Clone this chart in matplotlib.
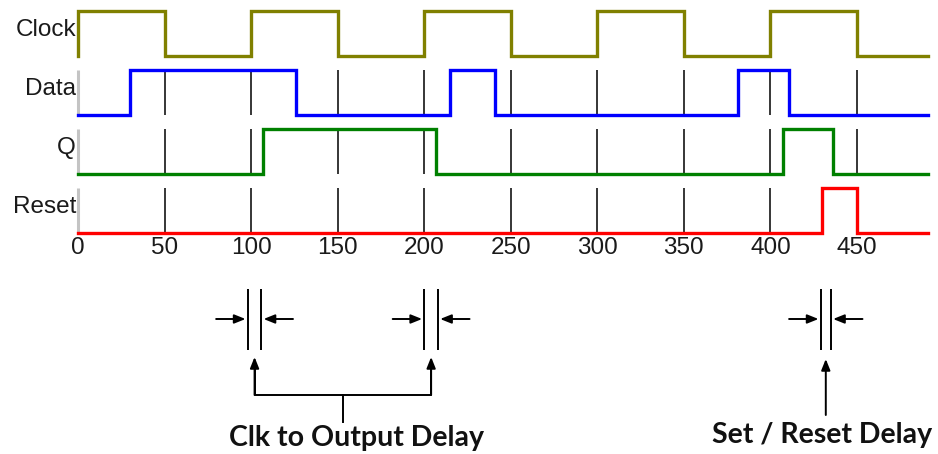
import matplotlib.pyplot as plt

# time axis and signals (every signal starts low and toggles at each edge)
ticks = [0, 50, 100, 150, 200, 250, 300, 350, 400, 450]
t_end = 491
names = ['Clock', 'Data', 'Q', 'Reset']
colors = ['#808000', '#0000ff', '#008000', '#ff0000']
clock_edges = [0, 50, 100, 150, 200, 250, 300, 350, 400, 450]
data_edges = [30, 126, 215, 241, 381, 411]
q_edges = [107, 207, 407, 436]
reset_edges = [430, 450]
edges = [clock_edges, data_edges, q_edges, reset_edges]

# delay markers (pairs of times)
clk_delays = [(98, 106), (200, 208)]
rst_delay = (429, 435)
clk_label = 'Clk to Output Delay'
rst_label = 'Set / Reset Delay'

# layout: x in time units, y in pixels from the top
W, H = 938, 454
px = 1.731          # pixels per time unit
x0 = 78             # pixel of t = 0
row_low = [55.7, 115, 174, 233.3]
amp = 45

fig = plt.figure(figsize=(W / 100, H / 100), dpi=100)
ax = fig.add_axes([0, 0, 1, 1])
ax.set_xlim(-x0 / px, (W - x0) / px)
ax.set_ylim(H, 0)
ax.axis('off')


def steps(ed):
    xs, ys, lvl = [0], [0], 0
    for e in ed:
        xs += [e, e]
        ys += [lvl, 1 - lvl]
        lvl = 1 - lvl
    xs.append(t_end)
    ys.append(lvl)
    return xs, ys


for i, (name, col, ed) in enumerate(zip(names, colors, edges)):
    low = row_low[i]
    high = low - amp
    if i > 0:
        ax.vlines(0, high, low, color='#c4c4c4', lw=2.2, zorder=1)
        ax.vlines(ticks[1:], high, low, color='black', lw=1.1, zorder=2)
    xs, ys = steps(ed)
    ax.plot(xs, [low - amp * v for v in ys], color=col, lw=2.4, zorder=3,
            solid_joinstyle='miter')
    ax.text(-1.2, low - amp / 2 - 3.5, name, ha='right', va='center',
            fontsize=17.5, family='Liberation Sans', color='#1a1a1a')

for t in ticks:
    ax.text(t, 248, str(t), ha='center', va='center', fontsize=17.5,
            family='Liberation Sans', color='#1a1a1a')

# delay annotations
arr = dict(arrowstyle='-|>,head_length=0.55,head_width=0.22', color='black',
           lw=1.4, shrinkA=0, shrinkB=0, mutation_scale=12)
gap = 1.2


def delay_mark(a, b):
    ax.vlines([a, b], 289, 350, color='black', lw=1.4)
    ax.annotate('', xy=(a - gap, 319), xytext=(a - gap - 17, 319), arrowprops=arr)
    ax.annotate('', xy=(b + gap, 319), xytext=(b + gap + 17, 319), arrowprops=arr)


for a, b in clk_delays:
    delay_mark(a, b)
delay_mark(*rst_delay)

mids = [(a + b) / 2 for a, b in clk_delays]
for m in mids:
    ax.annotate('', xy=(m, 357), xytext=(m, 395), arrowprops=arr)
ax.plot([mids[0], mids[0], mids[1], mids[1]], [357 + 8, 395, 395, 357 + 8],
        color='black', lw=1.4)
mc = (mids[0] + mids[1]) / 2
ax.plot([mc, mc], [395, 422], color='black', lw=1.4)
ax.text(mc + 8, 438, clk_label, ha='center', va='center', fontsize=20.5,
        family='Lato', weight='bold', color='#111111')

mr = (rst_delay[0] + rst_delay[1]) / 2
ax.annotate('', xy=(mr, 359), xytext=(mr, 415), arrowprops=arr)
ax.text(mr - 2, 435, rst_label, ha='center', va='center', fontsize=20.5,
        family='Lato', weight='bold', color='#111111')

fig.savefig('out.png', dpi=100)
